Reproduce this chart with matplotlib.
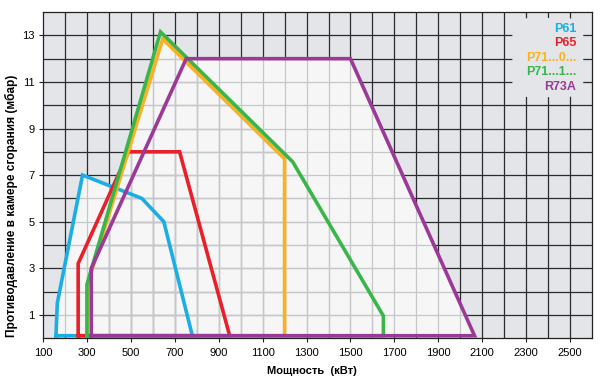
import matplotlib
matplotlib.use('Agg')
import matplotlib.pyplot as plt
from matplotlib.patches import Polygon, FancyBboxPatch
from matplotlib.collections import LineCollection

plt.rcParams['font.family'] = ['Liberation Sans', 'DejaVu Sans']

# ---- data (kW, mbar), closed working-field polygons ----
p61_x = [159, 165, 280, 550, 650, 780, 159]
p61_y = [0.1, 1.5, 7.0, 6.0, 5.0, 0.1, 0.1]
p65_x = [260, 260, 490, 722, 950, 260]
p65_y = [0.1, 3.2, 8.0, 8.0, 0.1, 0.1]
p710_x = [302, 306, 645, 1200, 1200, 302]
p710_y = [0.1, 2.4, 12.85, 7.7, 0.1, 0.1]
p711_x = [300, 300, 635, 1237, 1650, 1650, 300]
p711_y = [0.1, 2.3, 13.15, 7.57, 0.95, 0.1, 0.1]
r73a_x = [320, 320, 752, 1500, 2065, 320]
r73a_y = [0.1, 3.0, 12.0, 12.0, 0.1, 0.1]

names = ['P61', 'P65', 'P71...0...', 'P71...1...', 'R73A']
colors = ['#1aaee5', '#e8202a', '#f9b121', '#3ab54a', '#9a3a96']
series = [(p61_x, p61_y), (p65_x, p65_y), (p710_x, p710_y),
          (p711_x, p711_y), (r73a_x, r73a_y)]

x_ticks = [100, 300, 500, 700, 900, 1100, 1300, 1500, 1700, 1900, 2100, 2300, 2500]
y_ticks = [1, 3, 5, 7, 9, 11, 13]
xmin, xmax, ymin, ymax = 100, 2600, 0, 14

fig = plt.figure(figsize=(6.0, 3.79), dpi=100)
ax = fig.add_axes([0.0717, 0.108, 0.915, 0.860])
ax.set_xlim(xmin, xmax)
ax.set_ylim(ymin, ymax)
bg = '#e4e5e8'
ax.set_facecolor(bg)

# grid segments
segs = [[(x, ymin), (x, ymax)] for x in range(xmin + 100, xmax, 100)]
segs += [[(xmin, y), (xmax, y)] for y in range(ymin + 1, ymax)]
ax.add_collection(LineCollection(segs, colors='#2b2b2b', linewidths=0.9, zorder=0.5))

light = '#f6f6f6'
patches = []
for xs, ys in series:
    poly = Polygon(list(zip(xs, ys)), closed=True, facecolor=light,
                   edgecolor='none', zorder=1)
    ax.add_patch(poly)
    patches.append(poly)
for poly in patches:
    lc = LineCollection(segs, colors='#c6c7c9', linewidths=0.9, zorder=1.5)
    ax.add_collection(lc)
    lc.set_clip_path(poly)

for (xs, ys), c in zip(series, colors):
    ax.plot(xs, ys, color=c, lw=2.6, solid_joinstyle='miter', zorder=3)

# legend area (grid removed behind the names)
box = FancyBboxPatch((0.855, 0.739), 0.129, 0.243, transform=ax.transAxes,
                     boxstyle='round,pad=0.0,rounding_size=0.035',
                     facecolor=bg, edgecolor='none', zorder=0.7)
ax.add_patch(box)
leg_y = [0.948, 0.904, 0.859, 0.815, 0.770]
for n, c, yy in zip(names, colors, leg_y):
    ax.text(0.971, yy, n, transform=ax.transAxes, ha='right', va='center',
            color=c, fontsize=9, fontweight='bold', zorder=4)

ax.set_xticks(x_ticks)
ax.set_yticks(y_ticks)
ax.tick_params(axis='x', direction='out', length=3, width=0.8, color='#222222',
               labelsize=8, pad=4)
ax.tick_params(axis='y', direction='out', length=3, width=0.8, color='#222222',
               labelsize=8, pad=3)
for s in ax.spines.values():
    s.set_color('#222222')
    s.set_linewidth(0.9)

fig.text(0.52, 0.021, 'Мощность  (кВт)', ha='center', va='center',
         fontsize=8, fontweight='bold')
fig.text(0.019, 0.456, 'Противодавление в камере сгорания (мбар)', ha='center',
         va='center', rotation=90, fontsize=8.6, fontweight='bold')

fig.savefig('out.png', dpi=100)
